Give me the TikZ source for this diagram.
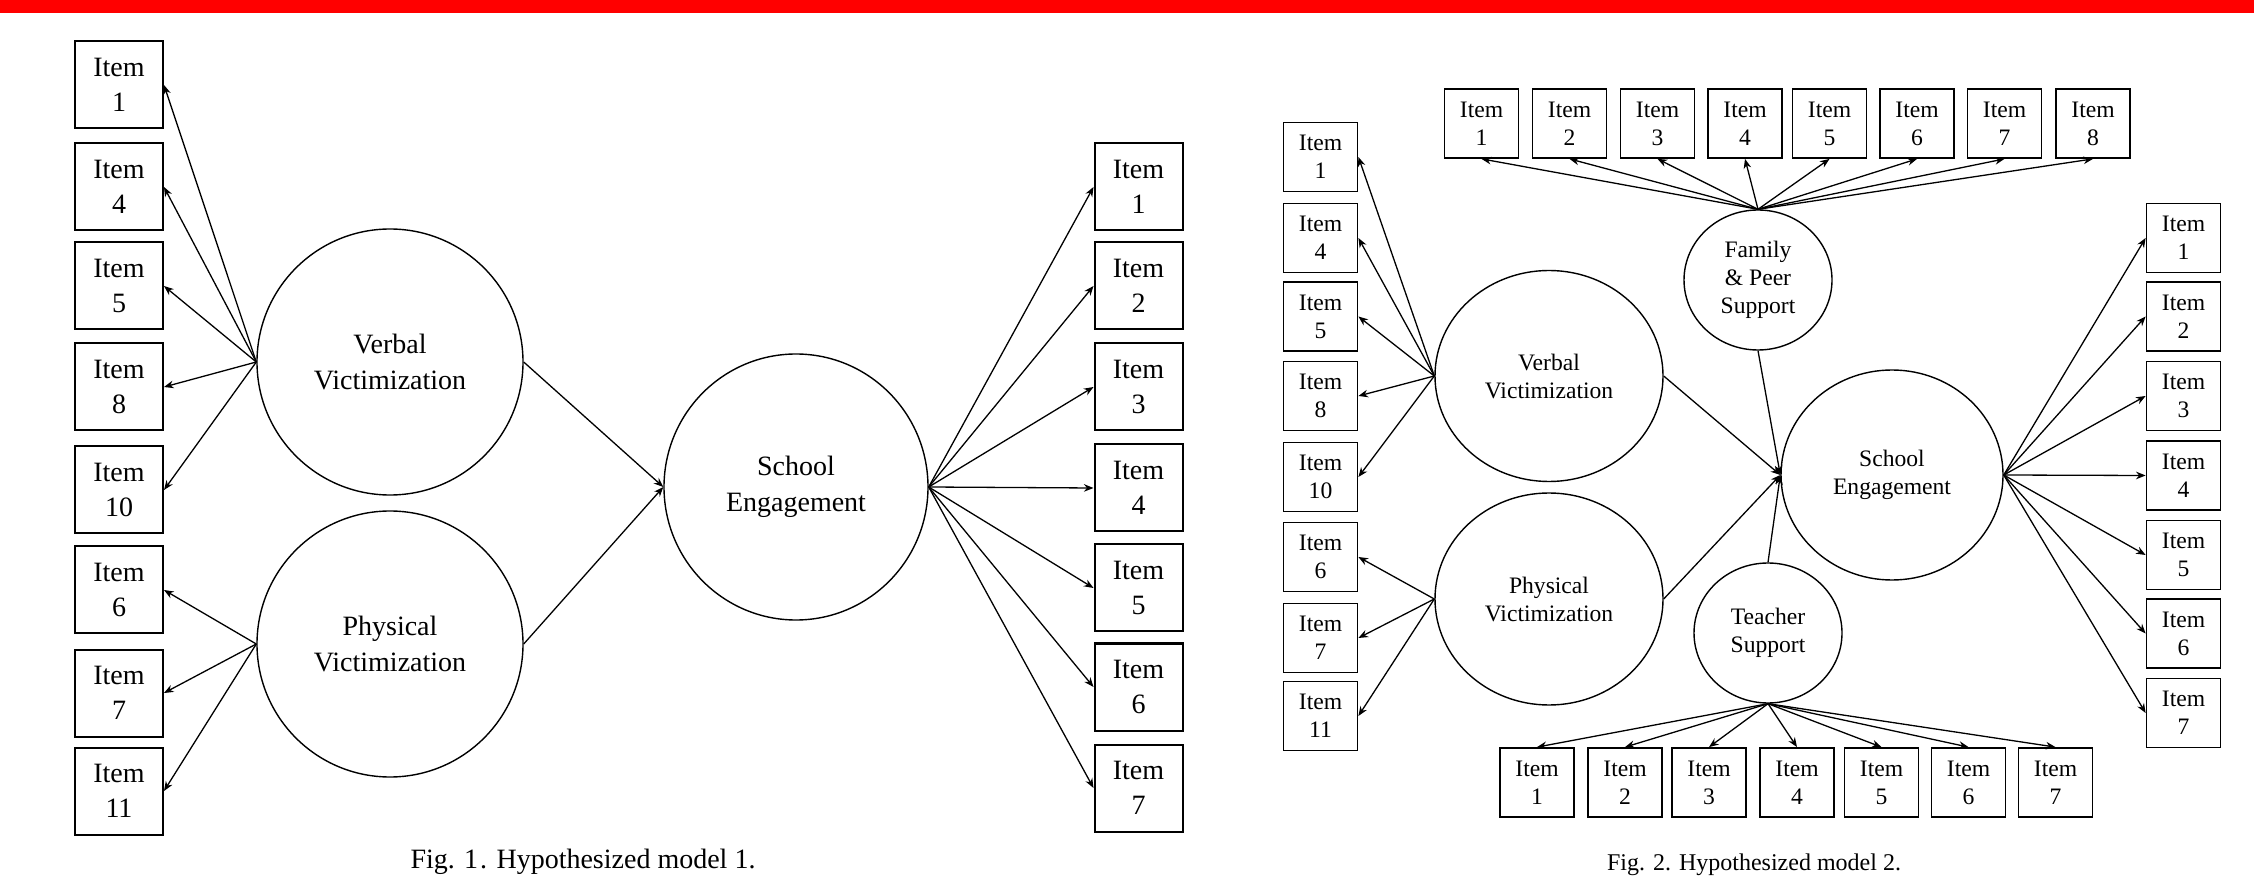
\documentclass[tikz,border=0pt]{standalone}
\usepackage{fontspec}
\setmainfont{Liberation Serif}
\usetikzlibrary{arrows.meta,shapes.geometric}
\tikzset{
  boxa/.style={draw,line width=1pt,minimum width=44pt,minimum height=43.5pt,inner sep=0pt,align=center,font=\fontsize{14pt}{17.5pt}\selectfont},
  boxb/.style={draw,line width=0.9pt,minimum width=37pt,minimum height=34.5pt,inner sep=0pt,align=center,font=\fontsize{11.8pt}{14pt}\selectfont},
  lata/.style={draw,ellipse,line width=0.7pt,inner sep=0pt,align=center,font=\fontsize{14pt}{18pt}\selectfont},
  latb/.style={draw,ellipse,line width=0.7pt,inner sep=0pt,align=center,font=\fontsize{11.8pt}{14pt}\selectfont},
  arr/.style={line width=0.65pt,-{Stealth[length=4.8pt,width=3.8pt]}},
  cap/.style={font=\fontsize{#1}{#1}\selectfont}
}
\begin{document}
\begin{tikzpicture}[x=0.5pt,y=-0.5pt]
\fill[white] (0,0) rectangle (2254,881);
\useasboundingbox (0,0) rectangle (2254,881);
\fill[red] (0,0) rectangle (2254,13);

% ---------- Fig 1 ----------
\node[lata,minimum width=133pt,minimum height=133pt] (vv1) at (390,362) {Verbal\\Victimization};
\node[lata,minimum width=133pt,minimum height=133pt] (pv1) at (390,644) {Physical\\Victimization};
\node[lata,minimum width=132pt,minimum height=133pt] (se1) at (796,487) {School\\Engagement};

\node[boxa] (l1a) at (119,85) {Item\\1};
\node[boxa] (l1b) at (119,187) {Item\\4};
\node[boxa] (l1c) at (119,286) {Item\\5};
\node[boxa] (l1d) at (119,387) {Item\\8};
\node[boxa] (l1e) at (119,490) {Item\\10};
\node[boxa] (l1f) at (119,590) {Item\\6};
\node[boxa] (l1g) at (119,693) {Item\\7};
\node[boxa] (l1h) at (119,791) {Item\\11};

\node[boxa] (r1a) at (1138.5,187) {Item\\1};
\node[boxa] (r1b) at (1138.5,286) {Item\\2};
\node[boxa] (r1c) at (1138.5,387) {Item\\3};
\node[boxa] (r1d) at (1138.5,488) {Item\\4};
\node[boxa] (r1e) at (1138.5,588) {Item\\5};
\node[boxa] (r1f) at (1138.5,687) {Item\\6};
\node[boxa] (r1g) at (1138.5,788) {Item\\7};

\foreach \b in {l1a,l1b,l1c,l1d,l1e} \draw[arr] (vv1.west) -- (\b.east);
\foreach \b in {l1f,l1g,l1h} \draw[arr] (pv1.west) -- (\b.east);
\draw[arr] (vv1.east) -- (se1.west);
\draw[arr] (pv1.east) -- (se1.west);
\foreach \b in {r1a,r1b,r1c,r1d,r1e,r1f,r1g} \draw[arr] (se1.east) -- (\b.west);

\node[cap=14pt] (c1) at (583,862) {Fig. 1\kern1pt. Hypothesized model 1.};

% ---------- Fig 2 ----------
\node[latb,minimum width=74pt,minimum height=70pt] (fp) at (1758,280) {Family\\\& Peer\\Support};
\node[latb,minimum width=114pt,minimum height=105.5pt] (vv2) at (1549,376) {Verbal\\Victimization};
\node[latb,minimum width=114pt,minimum height=106pt] (pv2) at (1549,599) {Physical\\Victimization};
\node[latb,minimum width=111pt,minimum height=105pt] (se2) at (1892,475) {School\\Engagement};
\node[latb,minimum width=74pt,minimum height=70pt] (ts) at (1768,633) {Teacher\\Support};

\node[boxb] (t1) at (1481.5,123.5) {Item\\1};
\node[boxb] (t2) at (1569.5,123.5) {Item\\2};
\node[boxb] (t3) at (1657.5,123.5) {Item\\3};
\node[boxb] (t4) at (1745,123.5) {Item\\4};
\node[boxb] (t5) at (1829.5,123.5) {Item\\5};
\node[boxb] (t6) at (1917,123.5) {Item\\6};
\node[boxb] (t7) at (2004.5,123.5) {Item\\7};
\node[boxb] (t8) at (2093,123.5) {Item\\8};

\node[boxb] (l2a) at (1320.5,157) {Item\\1};
\node[boxb] (l2b) at (1320.5,238) {Item\\4};
\node[boxb] (l2c) at (1320.5,316.5) {Item\\5};
\node[boxb] (l2d) at (1320.5,396) {Item\\8};
\node[boxb] (l2e) at (1320.5,477) {Item\\10};
\node[boxb] (l2f) at (1320.5,557) {Item\\6};
\node[boxb] (l2g) at (1320.5,638) {Item\\7};
\node[boxb] (l2h) at (1320.5,716) {Item\\11};

\node[boxb] (r2a) at (2183.5,238) {Item\\1};
\node[boxb] (r2b) at (2183.5,316.5) {Item\\2};
\node[boxb] (r2c) at (2183.5,396) {Item\\3};
\node[boxb] (r2d) at (2183.5,475.5) {Item\\4};
\node[boxb] (r2e) at (2183.5,555) {Item\\5};
\node[boxb] (r2f) at (2183.5,633.5) {Item\\6};
\node[boxb] (r2g) at (2183.5,713) {Item\\7};

\node[boxb] (b1) at (1537,782.5) {Item\\1};
\node[boxb] (b2) at (1625,782.5) {Item\\2};
\node[boxb] (b3) at (1709,782.5) {Item\\3};
\node[boxb] (b4) at (1797,782.5) {Item\\4};
\node[boxb] (b5) at (1881.5,782.5) {Item\\5};
\node[boxb] (b6) at (1968.5,782.5) {Item\\6};
\node[boxb] (b7) at (2055.5,782.5) {Item\\7};

\foreach \b in {t1,t2,t3,t4,t5,t6,t7,t8} \draw[arr] (fp.north) -- (\b.south);
\foreach \b in {l2a,l2b,l2c,l2d,l2e} \draw[arr] (vv2.west) -- (\b.east);
\foreach \b in {l2f,l2g,l2h} \draw[arr] (pv2.west) -- (\b.east);
\foreach \b in {r2a,r2b,r2c,r2d,r2e,r2f,r2g} \draw[arr] (se2.east) -- (\b.west);
\foreach \b in {b1,b2,b3,b4,b5,b6,b7} \draw[arr] (ts.south) -- (\b.north);
\draw[arr] (vv2.east) -- (se2.west);
\draw[arr] (pv2.east) -- (se2.west);
\draw[arr] (fp.south) -- (se2.west);
\draw[arr] (ts.north) -- (se2.west);

\node[cap=12pt] (c2) at (1754,865) {Fig. 2. Hypothesized model 2.};
\end{tikzpicture}
\end{document}
